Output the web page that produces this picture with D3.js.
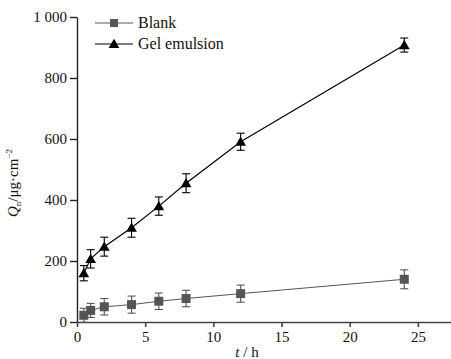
<!DOCTYPE html>
<html lang="en">
<head>
<meta charset="utf-8">
<title>Q vs t</title>
<script src="https://cdn.jsdelivr.net/npm/d3@7"></script>
<style>
  body { margin: 0; background: #fff; }
  svg text { font-family: "Liberation Serif", serif !important; }
</style>
</head>
<body>
<script>
// time points (h)
var times = [0.5, 1, 2, 4, 6, 8, 12, 24];
// blank
var blankVals = [22, 38, 50, 57, 68, 77, 93, 140];
var blankErr = [23, 23, 27, 28, 27, 27, 28, 31];
// gel emulsion
var gelVals = [160, 207, 247, 309, 380, 455, 591, 908];
var gelErr = [25, 30, 31, 31, 30, 31, 28, 23];

var xTicks = [0, 5, 10, 15, 20, 25];
var yTicks = [0, 200, 400, 600, 800, 1000];

var w = 451, h = 359;

var svg = d3.select("body").append("svg")
  .attr("width", w)
  .attr("height", h);

var x = d3.scaleLinear().domain([0, 27.5]).range([77, 452]);
var y = d3.scaleLinear().domain([0, 1000]).range([322, 17]);

// y axis
var yAxis = d3.axisLeft(y)
  .tickValues(yTicks)
  .tickSize(7)
  .tickSizeOuter(0)
  .tickPadding(3)
  .tickFormat(function(d) { return d >= 1000 ? "1 000" : d; });
var gy = svg.append("g")
  .attr("transform", "translate(" + x(0) + ",0)")
  .call(yAxis)
  .attr("font-family", null)
  .attr("font-size", 15);
gy.selectAll("text").attr("fill", "#111");
gy.selectAll("path, line").attr("stroke", "#222").attr("stroke-width", 1.4);

// x axis
var xAxis = d3.axisBottom(x)
  .tickValues(xTicks)
  .tickSize(5)
  .tickSizeOuter(0)
  .tickPadding(4);
var gx = svg.append("g")
  .attr("transform", "translate(0," + y(0) + ")")
  .call(xAxis)
  .attr("font-family", null)
  .attr("font-size", 15);
gx.selectAll("text").attr("fill", "#111");
gx.selectAll("path, line").attr("stroke", "#444").attr("stroke-width", 1.6);

// axis titles
svg.append("text")
  .attr("x", 247).attr("y", 357)
  .attr("text-anchor", "middle")
  .attr("font-size", 15)
  .attr("fill", "#111")
  .html("<tspan font-style='italic'>t</tspan> / h");

var yl = svg.append("text")
  .attr("transform", "translate(18,183) rotate(-90)")
  .attr("text-anchor", "middle")
  .attr("font-size", 15)
  .attr("fill", "#111");
yl.append("tspan").attr("font-style", "italic").text("Q");
yl.append("tspan").attr("dy", 3).attr("font-size", 9).text("n");
yl.append("tspan").attr("dy", -3).text("/μg·cm");
yl.append("tspan").attr("dy", -6).attr("font-size", 9).text("−2");

var triangle = d3.symbol().type(d3.symbolTriangle).size(50);

function drawSeries(vals, errs, color, lineW, marker) {
  var pts = times.map(function(t, i) { return { t: t, v: vals[i], e: errs[i] }; });
  var g = svg.append("g");
  g.append("path")
    .datum(pts)
    .attr("fill", "none")
    .attr("stroke", color)
    .attr("stroke-width", lineW)
    .attr("d", d3.line().x(function(d) { return x(d.t); }).y(function(d) { return y(d.v); }));

  var eb = g.selectAll(".eb").data(pts).enter().append("g")
    .attr("stroke", color).attr("stroke-width", 1.1);
  eb.append("line")
    .attr("x1", function(d) { return x(d.t); }).attr("x2", function(d) { return x(d.t); })
    .attr("y1", function(d) { return y(d.v + d.e); }).attr("y2", function(d) { return y(d.v - d.e); });
  eb.append("line")
    .attr("x1", function(d) { return x(d.t) - 4; }).attr("x2", function(d) { return x(d.t) + 4; })
    .attr("y1", function(d) { return y(d.v + d.e); }).attr("y2", function(d) { return y(d.v + d.e); });
  eb.append("line")
    .attr("x1", function(d) { return x(d.t) - 4; }).attr("x2", function(d) { return x(d.t) + 4; })
    .attr("y1", function(d) { return y(d.v - d.e); }).attr("y2", function(d) { return y(d.v - d.e); });

  if (marker == "square") {
    g.selectAll(".m").data(pts).enter().append("rect")
      .attr("x", function(d) { return x(d.t) - 4.5; })
      .attr("y", function(d) { return y(d.v) - 4.5; })
      .attr("width", 9).attr("height", 9)
      .attr("fill", color);
  } else {
    g.selectAll(".m").data(pts).enter().append("path")
      .attr("d", triangle)
      .attr("transform", function(d) { return "translate(" + x(d.t) + "," + (y(d.v) + 1) + ")"; })
      .attr("fill", color);
  }
}

drawSeries(blankVals, blankErr, "#555", 1, "square");
drawSeries(gelVals, gelErr, "#000", 1.2, "triangle");

// legend
var legend = [
  { name: "Blank", color: "#555", lw: 1, marker: "square", y: 23 },
  { name: "Gel emulsion", color: "#000", lw: 1.2, marker: "triangle", y: 44 }
];
legend.forEach(function(l) {
  svg.append("line")
    .attr("x1", 95).attr("x2", 133)
    .attr("y1", l.y).attr("y2", l.y)
    .attr("stroke", l.color).attr("stroke-width", l.lw);
  if (l.marker == "square") {
    svg.append("rect").attr("x", 110).attr("y", l.y - 4).attr("width", 8).attr("height", 8).attr("fill", l.color);
  } else {
    svg.append("path").attr("d", triangle).attr("transform", "translate(114," + (l.y + 1) + ")").attr("fill", l.color);
  }
  svg.append("text")
    .attr("x", 138).attr("y", l.y + 5)
    .attr("font-size", 16)
    .attr("fill", "#111")
    .text(l.name);
});
</script>
</body>
</html>
